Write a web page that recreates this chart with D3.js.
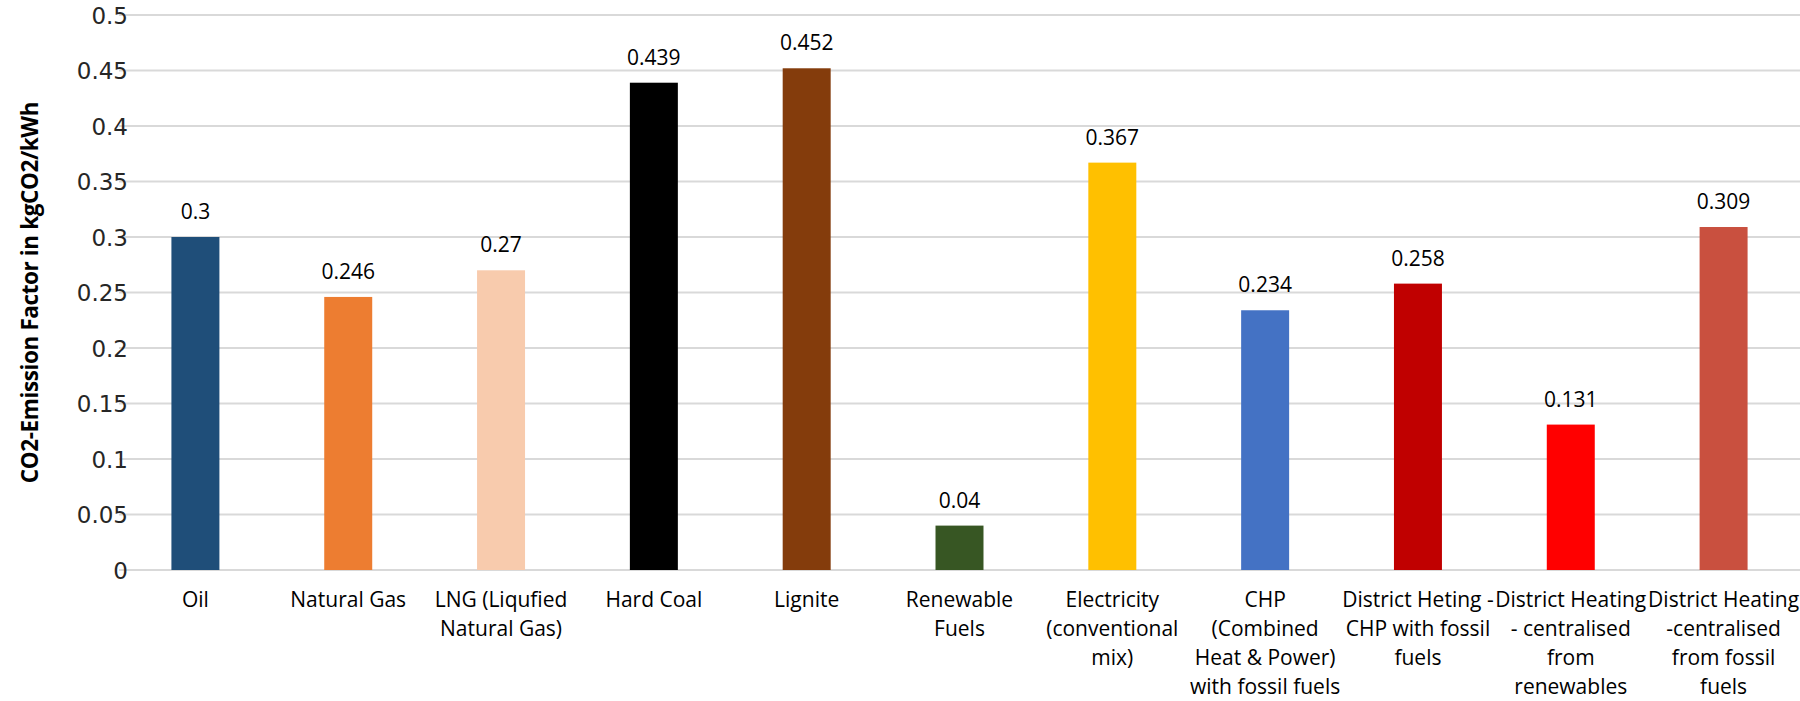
<!DOCTYPE html>
<html>
<head>
<meta charset="utf-8">
<script src="https://cdn.jsdelivr.net/npm/d3@7"></script>
<style>
  html, body { margin: 0; padding: 0; background: #fff; }
  svg { display: block; }
</style>
</head>
<body>
<svg id="chart" width="1800" height="701"></svg>
<script>
// Emission factors per energy carrier (kg CO2 per kWh)
const categories = [
  "Oil",
  "Natural Gas",
  "LNG (Liqufied\nNatural Gas)",
  "Hard Coal",
  "Lignite",
  "Renewable\nFuels",
  "Electricity\n(conventional\nmix)",
  "CHP\n(Combined\nHeat & Power)\nwith fossil fuels",
  "District Heting -\nCHP with fossil\nfuels",
  "District Heating\n- centralised\nfrom\nrenewables",
  "District Heating\n-centralised\nfrom fossil\nfuels"
];
const values = [0.3, 0.246, 0.27, 0.439, 0.452, 0.04, 0.367, 0.234, 0.258, 0.131, 0.309];
const barColors = [
  "#1F4E79", "#ED7D31", "#F8CBAD", "#000000", "#843C0C", "#375623",
  "#FFC000", "#4472C4", "#C00000", "#FF0000", "#C9503F"
];
const yTicks = [0, 0.05, 0.1, 0.15, 0.2, 0.25, 0.3, 0.35, 0.4, 0.45, 0.5];
const yTitle = "CO2-Emission Factor in kgCO2/kWh";

const svg = d3.select("#chart");
const margin = { left: 119, right: 0, top: 15, bottom: 131 };
const width = 1800, height = 701;

const x = d3.scaleBand()
  .domain(d3.range(categories.length))
  .range([margin.left, width - margin.right])
  .paddingInner(0.686)
  .paddingOuter(0.343);

const y = d3.scaleLinear()
  .domain([0, 0.5])
  .range([height - margin.bottom, margin.top]);

// Horizontal gridlines
svg.append("g")
  .selectAll("line")
  .data(yTicks)
  .join("line")
  .attr("x1", margin.left)
  .attr("x2", width - margin.right)
  .attr("y1", d => y(d))
  .attr("y2", d => y(d))
  .attr("stroke", "#d9d9d9")
  .attr("stroke-width", 2);

// Y tick labels
const yAxis = d3.axisLeft(y).tickValues(yTicks).tickSize(0).tickPadding(0)
  .tickFormat(d => String(+d.toFixed(2)));
const gy = svg.append("g")
  .attr("transform", `translate(${128},0)`)
  .call(yAxis);
gy.select(".domain").remove();
gy.selectAll("text")
  .attr("font-family", "DejaVu Sans, sans-serif")
  .attr("font-size", 23)
  .attr("fill", "#262626")
  .attr("dy", "0.36em");

// Bars
svg.append("g")
  .selectAll("rect")
  .data(values)
  .join("rect")
  .attr("x", (d, i) => x(i))
  .attr("width", x.bandwidth())
  .attr("y", d => y(d))
  .attr("height", d => y(0) - y(d))
  .attr("fill", (d, i) => barColors[i]);

// Value labels
svg.append("g")
  .selectAll("text")
  .data(values)
  .join("text")
  .attr("x", (d, i) => x(i) + x.bandwidth() / 2)
  .attr("y", d => y(d) - 18)
  .attr("text-anchor", "middle")
  .attr("font-family", "Open Sans, sans-serif")
  .attr("font-size", 21)
  .attr("fill", "#000")
  .text(d => d);

// Category labels (multi-line)
const xl = svg.append("g")
  .selectAll("text")
  .data(categories)
  .join("text")
  .attr("text-anchor", "middle")
  .attr("font-family", "Open Sans, sans-serif")
  .attr("font-size", 21)
  .attr("fill", "#000");
xl.each(function(d, i) {
  const t = d3.select(this);
  d.split("\n").forEach((line, k) => {
    t.append("tspan")
      .attr("x", x(i) + x.bandwidth() / 2)
      .attr("y", y(0) + 37 + k * 29)
      .text(line);
  });
});

// Y axis title
svg.append("text")
  .attr("transform", `translate(38,${(y(0) + y(0.5)) / 2}) rotate(-90)`)
  .attr("text-anchor", "middle")
  .attr("font-family", "Open Sans, sans-serif")
  .attr("font-weight", "bold")
  .attr("font-size", 22.5)
  .attr("letter-spacing", -0.4)
  .attr("fill", "#000")
  .text(yTitle);
</script>
</body>
</html>
